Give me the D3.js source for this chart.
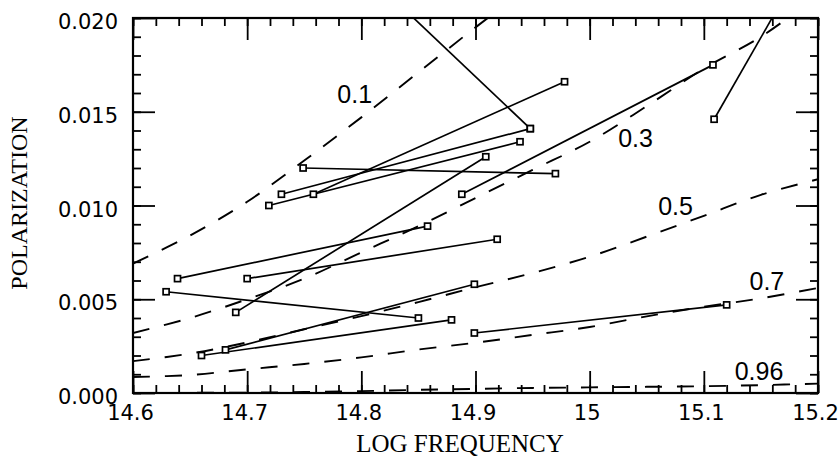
<!DOCTYPE html>
<html><head><meta charset="utf-8">
<script src="https://cdn.jsdelivr.net/npm/d3@7"></script>
<style>body{margin:0;background:#fff} svg{display:block}</style>
</head><body><svg id="c" width="840" height="460"></svg>
<script>
// ---- data ----
const xTicks = [14.6, 14.7, 14.8, 14.9, 15.0, 15.1, 15.2];
const xTickLabels = ["14.6", "14.7", "14.8", "14.9", "15", "15.1", "15.2"];
const yTicks = [0, 0.005, 0.010, 0.015, 0.020];
const yTickLabels = ["0.000", "0.005", "0.010", "0.015", "0.020"];

// model curves (dashed), sampled at curveX
const curveX = [14.60, 14.65, 14.70, 14.75, 14.80, 14.85, 14.90, 14.95, 15.00, 15.05, 15.10, 15.15, 15.20];
const curve01 = [0.0069, 0.0084, 0.0102, 0.0124, 0.0147, 0.0171, 0.0195, 0.0218];
const curve03 = [0.0032, 0.0040, 0.0050, 0.0061, 0.0075, 0.0089, 0.0104, 0.0119, 0.0134, 0.0153, 0.0173, 0.0190, 0.0212];
const curve05 = [0.0017, 0.0021, 0.0027, 0.0034, 0.0041, 0.00485, 0.00564, 0.0064, 0.00727, 0.00834, 0.00945, 0.01057, 0.0114];
const curve07 = [0.00085, 0.00096, 0.00126, 0.00155, 0.0019, 0.00232, 0.00268, 0.0031, 0.00352, 0.00409, 0.0046, 0.00505, 0.0056];
const curve096 = [0, 0.00001, 0.00002, 0.00005, 0.0001, 0.00017, 0.00022, 0.00027, 0.0003, 0.00033, 0.00036, 0.00042, 0.0005];
const curveLabels = ["0.1", "0.3", "0.5", "0.7", "0.96"];
const curveLabelX = [14.779, 15.025, 15.060, 15.140, 15.127];
const curveLabelY = [0.01547, 0.01312, 0.00949, 0.00549, 0.00069];

// observed pairs (segment from A to B)
const freqA = [14.728, 14.730, 14.758, 14.719, 14.749, 14.690, 14.888, 15.109, 14.639, 14.700, 14.629, 14.681, 14.660, 14.899];
const polA  = [0.0268, 0.0106, 0.0106, 0.0100, 0.0120, 0.0043, 0.0106, 0.0146, 0.0061, 0.0061, 0.0054, 0.0023, 0.0020, 0.0032];
const freqB = [14.948, 14.948, 14.978, 14.939, 14.970, 14.909, 15.108, 15.329, 14.858, 14.919, 14.850, 14.899, 14.879, 15.120];
const polB  = [0.0141, 0.0141, 0.0166, 0.0134, 0.0117, 0.0126, 0.0175, 0.0380, 0.0089, 0.0082, 0.0040, 0.0058, 0.0039, 0.0047];

// ---- chart ----
const svg = d3.select("#c");
const L = 133, R = 818, T = 18, B = 393;
const x = d3.scaleLinear().domain([14.6, 15.2]).range([L, R]);
const y = d3.scaleLinear().domain([0, 0.020]).range([B, T]);

svg.append("rect").attr("width", 840).attr("height", 460).attr("fill", "#fff");

svg.append("clipPath").attr("id", "clip")
  .append("rect").attr("x", L).attr("y", T).attr("width", R - L).attr("height", B - T);

const plot = svg.append("g").attr("clip-path", "url(#clip)");

// dashed curves
const line = d3.line().x(d => x(d[0])).y(d => y(d[1])).curve(d3.curveCatmullRom);
[curve01, curve03, curve05, curve07, curve096].forEach(c => {
  const pts = c.map((v, i) => [curveX[i], v]);
  plot.append("path").attr("d", line(pts))
    .attr("fill", "none").attr("stroke", "#000").attr("stroke-width", 1.9)
    .attr("stroke-dasharray", "17,15");
});

// segments
const segs = freqA.map((f, i) => ({a: [f, polA[i]], b: [freqB[i], polB[i]]}));
plot.selectAll("line.seg").data(segs).enter().append("line")
  .attr("x1", d => x(d.a[0])).attr("y1", d => y(d.a[1]))
  .attr("x2", d => x(d.b[0])).attr("y2", d => y(d.b[1]))
  .attr("stroke", "#000").attr("stroke-width", 1.7);

// markers
const pts = [];
segs.forEach(s => { pts.push(s.a, s.b); });
const sz = 6;
plot.selectAll("rect.mk").data(pts).enter().append("rect")
  .attr("x", d => x(d[0]) - sz / 2).attr("y", d => y(d[1]) - sz / 2)
  .attr("width", sz).attr("height", sz)
  .attr("fill", "#fff").attr("stroke", "#000").attr("stroke-width", 1.7);

// curve labels
svg.selectAll("text.cl").data(curveLabels).enter().append("text")
  .attr("x", (d, i) => x(curveLabelX[i])).attr("y", (d, i) => y(curveLabelY[i]))
  .attr("font-family", "'Liberation Sans', Arial, sans-serif").attr("font-size", 25)
  .attr("fill", "#000").text(d => d);

// axes
const xMinor = d3.range(14.6, 15.2001, 0.02).map(v => +v.toFixed(3));
const yMinor = d3.range(0, 0.02001, 0.001).map(v => +v.toFixed(4));
const font = "'DejaVu Sans', sans-serif";

function styleAxis(g) {
  g.select(".domain").remove();
  g.selectAll("line").attr("stroke", "#000").attr("stroke-width", 1.8);
}
// minor ticks
svg.append("g").attr("transform", `translate(0,${B})`).call(d3.axisBottom(x).tickValues(xMinor).tickSize(-8).tickFormat("")).call(styleAxis);
svg.append("g").attr("transform", `translate(0,${T})`).call(d3.axisTop(x).tickValues(xMinor).tickSize(-8).tickFormat("")).call(styleAxis);
svg.append("g").attr("transform", `translate(${L},0)`).call(d3.axisLeft(y).tickValues(yMinor).tickSize(-8).tickFormat("")).call(styleAxis);
svg.append("g").attr("transform", `translate(${R},0)`).call(d3.axisRight(y).tickValues(yMinor).tickSize(-8).tickFormat("")).call(styleAxis);
// major ticks
const gx = svg.append("g").attr("transform", `translate(0,${B})`)
  .call(d3.axisBottom(x).tickValues(xTicks).tickSize(-22).tickPadding(12).tickFormat((d, i) => xTickLabels[i]))
  .call(styleAxis);
gx.selectAll("text").attr("font-family", font).attr("font-size", 21).attr("fill", "#000").attr("dx", -3);
svg.append("g").attr("transform", `translate(0,${T})`).call(d3.axisTop(x).tickValues(xTicks).tickSize(-22).tickFormat("")).call(styleAxis);
const gy = svg.append("g").attr("transform", `translate(${L},0)`)
  .call(d3.axisLeft(y).tickValues(yTicks).tickSize(-22).tickPadding(15).tickFormat((d, i) => yTickLabels[i]))
  .call(styleAxis);
gy.selectAll("text").attr("font-family", font).attr("font-size", 21).attr("fill", "#000").attr("dy", "0.5em");
svg.append("g").attr("transform", `translate(${R},0)`).call(d3.axisRight(y).tickValues(yTicks).tickSize(-22).tickFormat("")).call(styleAxis);

// frame
svg.append("rect").attr("x", L).attr("y", T).attr("width", R - L).attr("height", B - T)
  .attr("fill", "none").attr("stroke", "#000").attr("stroke-width", 2.2);

// titles
svg.append("text").attr("x", 460).attr("y", 452).attr("text-anchor", "middle")
  .attr("font-family", "'Liberation Serif', 'Times New Roman', serif").attr("font-size", 25)
  .attr("fill", "#000").text("LOG FREQUENCY");
svg.append("text").attr("transform", "translate(27,203) rotate(-90)").attr("text-anchor", "middle")
  .attr("font-family", "'Liberation Serif', 'Times New Roman', serif").attr("font-size", 24)
  .attr("fill", "#000").text("POLARIZATION");
</script></body></html>
